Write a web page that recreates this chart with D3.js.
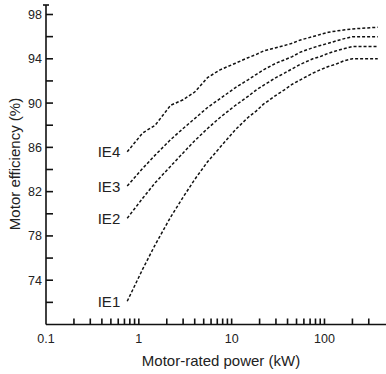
<!DOCTYPE html>
<html>
<head>
<meta charset="utf-8">
<script src="https://cdn.jsdelivr.net/npm/d3@7"></script>
<style>
  body { margin: 0; background: #fff; }
  text { font-family: "Liberation Sans", Arial, sans-serif; fill: #222; }
</style>
</head>
<body>
<div id="chart-area"></div>
<script>
// motor power (kW) and efficiency (%) per class
var power = [0.75, 1.1, 1.5, 2.2, 3, 4, 5.5, 7.5, 11, 15, 18.5, 22, 30, 37, 45, 55, 75, 90, 110, 132, 160, 200, 375];
var ie1 = [72.1, 75.0, 77.2, 79.7, 81.5, 83.1, 84.7, 86.0, 87.6, 88.7, 89.3, 89.9, 90.7, 91.2, 91.7, 92.1, 92.7, 93.0, 93.3, 93.5, 93.8, 94.0, 94.0];
var ie2 = [79.6, 81.4, 82.8, 84.3, 85.5, 86.6, 87.7, 88.7, 89.8, 90.6, 91.2, 91.6, 92.3, 92.7, 93.1, 93.5, 94.0, 94.2, 94.5, 94.7, 94.9, 95.1, 95.1];
var ie3 = [82.5, 84.1, 85.3, 86.7, 87.7, 88.6, 89.6, 90.4, 91.4, 92.1, 92.6, 93.0, 93.6, 93.9, 94.2, 94.6, 95.0, 95.2, 95.4, 95.6, 95.8, 96.0, 96.0];
var ie4 = [85.6, 87.3, 88.0, 89.8, 90.3, 91.0, 92.3, 93.0, 93.6, 94.1, 94.4, 94.7, 95.0, 95.2, 95.4, 95.7, 96.0, 96.2, 96.4, 96.5, 96.6, 96.7, 96.85];
var seriesNames = ["IE1", "IE2", "IE3", "IE4"];
var xMajor = [0.1, 1, 10, 100];
var xMinor = [0.2,0.3,0.4,0.5,0.6,0.7,0.8,0.9, 2,3,4,5,6,7,8,9, 20,30,40,50,60,70,80,90, 200,300];
var yMajor = [74, 78, 82, 86, 90, 94, 98];
var yMinor = [72, 76, 80, 84, 88, 92, 96];

var W = 386, H = 374;

var svg = d3.select("#chart-area").append("svg")
  .attr("width", W).attr("height", H);

var x = d3.scaleLog().domain([0.1, 460]).range([46, 386]);
var y = d3.scaleLinear().domain([70, 98]).range([324.5, 14.5]);
var yTop = 5;

var axes = svg.append("g").attr("stroke", "#111").attr("stroke-width", 1.6);
// axis lines
axes.append("line").attr("x1", x(0.1)).attr("x2", x(0.1)).attr("y1", y(70)).attr("y2", yTop);
axes.append("line").attr("x1", x(0.1) - 3).attr("x2", x(0.1) + 3).attr("y1", yTop).attr("y2", yTop);
axes.append("line").attr("x1", x(0.1)).attr("x2", 386).attr("y1", y(70)).attr("y2", y(70));

// y ticks (inward)
axes.selectAll(".yt").data(yMajor.concat(yMinor)).enter().append("line")
  .attr("x1", x(0.1)).attr("x2", x(0.1) + 7)
  .attr("y1", d => y(d)).attr("y2", d => y(d));
// x ticks (inward)
axes.selectAll(".xt").data(xMajor.slice(1).concat(xMinor)).enter().append("line")
  .attr("x1", d => x(d)).attr("x2", d => x(d))
  .attr("y1", y(70)).attr("y2", y(70) - 6);

svg.selectAll(".yl").data(yMajor).enter().append("text")
  .attr("x", x(0.1) - 4).attr("y", d => y(d) + 4.5)
  .attr("text-anchor", "end").attr("font-size", 12.5)
  .text(d => d);
svg.selectAll(".xl").data(xMajor).enter().append("text")
  .attr("x", d => x(d)).attr("y", 343)
  .attr("text-anchor", "middle").attr("font-size", 12.5)
  .text(d => d);

svg.append("text").attr("x", 221).attr("y", 366)
  .attr("text-anchor", "middle").attr("font-size", 15)
  .text("Motor-rated power (kW)");
svg.append("text")
  .attr("transform", "translate(20," + 164 + ") rotate(-90)")
  .attr("text-anchor", "middle").attr("font-size", 15)
  .text("Motor efficiency (%)");

var line = d3.line().x(d => x(d[0])).y(d => y(d[1]));
var all = [ie1, ie2, ie3, ie4];
all.forEach(function(vals, i) {
  var pts = power.map((p, j) => [p, vals[j]]);
  svg.append("path").datum(pts)
    .attr("d", line)
    .attr("fill", "none").attr("stroke", "#111")
    .attr("stroke-width", 1.5)
    .attr("stroke-dasharray", "3,2");
  svg.append("text")
    .attr("x", x(power[0]) - 7).attr("y", y(vals[0]) + 5.5)
    .attr("text-anchor", "end").attr("font-size", 15)
    .text(seriesNames[i]);
});
</script>
</body>
</html>
